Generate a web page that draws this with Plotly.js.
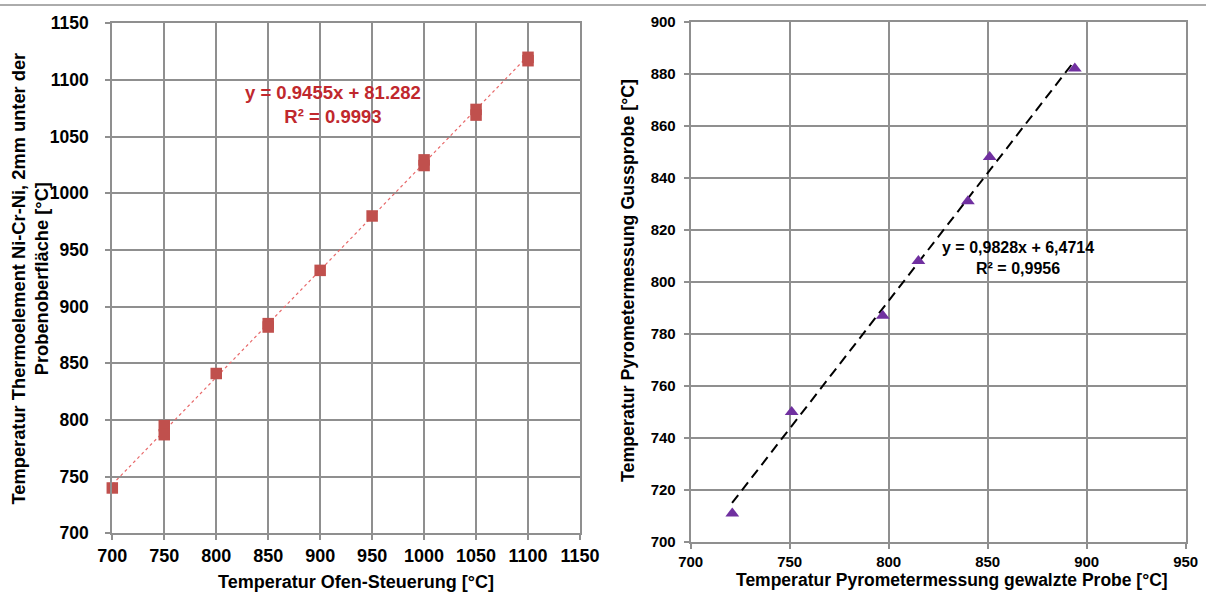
<!DOCTYPE html>
<html>
<head>
<meta charset="utf-8">
<script src="https://cdn.plot.ly/plotly-3.0.1.min.js"></script>
<style>
html,body{margin:0;padding:0;background:#fff;}
#chart{width:1206px;height:597px;}
</style>
</head>
<body>
<div id="chart"></div>
<script>
// Left chart: furnace control vs thermocouple
const leftX = [700, 750, 750, 800, 850, 850, 900, 950, 1000, 1000, 1050, 1050, 1100, 1100];
const leftY = [740, 795, 787, 841, 885, 882, 932, 980, 1029.5, 1024.5, 1074, 1069, 1120, 1117];
const leftTrendX = [700, 1100];
const leftTrendY = [743.1, 1121.3];
const leftTicks = [700, 750, 800, 850, 900, 950, 1000, 1050, 1100, 1150];

// Right chart: pyrometer rolled vs cast sample
const rightX = [721, 751, 797, 815, 840, 851, 894];
const rightY = [711, 750, 787, 808, 831, 848, 882];
const rightTrendX = [720.9, 894];
const rightTrendY = [715.0, 885.1];
const rightXTicks = [700, 750, 800, 850, 900, 950];
const rightYTicks = [700, 720, 740, 760, 780, 800, 820, 840, 860, 880, 900];

const FONT = "Liberation Sans, Arial, sans-serif";
const GRID = "#8f8f8f";
const W = 1206, H = 597;

const traces = [
  {x: leftTrendX, y: leftTrendY, xaxis: 'x', yaxis: 'y', mode: 'lines',
   line: {color: '#e8696a', width: 1.2, dash: 'dot'}, hoverinfo: 'skip', showlegend: false},
  {x: leftX, y: leftY, xaxis: 'x', yaxis: 'y', mode: 'markers', cliponaxis: false,
   marker: {symbol: 'square', size: 11.5, color: '#c0504d'}, showlegend: false},
  {x: rightTrendX, y: rightTrendY, xaxis: 'x2', yaxis: 'y2', mode: 'lines',
   line: {color: '#000000', width: 2, dash: '10px,6px'}, hoverinfo: 'skip', showlegend: false},
  {x: rightX, y: rightY, xaxis: 'x2', yaxis: 'y2', mode: 'markers', cliponaxis: false,
   marker: {symbol: 'triangle-up', size: 12, color: '#7030a0'}, showlegend: false}
];

function ax(domain, range, ticks, fontSize, anchor, standoff) {
  return {
    domain: domain, range: range, tickvals: ticks, ticktext: ticks.map(String),
    showgrid: true, gridcolor: GRID, gridwidth: 2,
    showline: true, linecolor: GRID, linewidth: 2, mirror: true,
    ticks: 'outside', ticklen: 5, tickcolor: GRID, tickwidth: 2,
    zeroline: false, anchor: anchor, fixedrange: true,
    ticklabelstandoff: standoff,
    tickfont: {family: FONT, size: fontSize, color: '#000', weight: 'bold'}
  };
}

const layout = {
  width: W, height: H,
  margin: {l: 0, r: 0, t: 0, b: 0},
  paper_bgcolor: '#fff', plot_bgcolor: '#fff',
  showlegend: false,
  xaxis: ax([112.3 / W, 580 / W], [700, 1150], leftTicks, 18, 'y', 0),
  yaxis: ax([(H - 533.3) / H, (H - 23.3) / H], [700, 1150], leftTicks, 17.5, 'x', 13),
  xaxis2: ax([690.7 / W, 1185.7 / W], [700, 950], rightXTicks, 15, 'y2', 0),
  yaxis2: ax([(H - 542) / H, (H - 21.7) / H], [700, 900], rightYTicks, 15, 'x2', 5),
  shapes: [
    {type: 'line', xref: 'paper', yref: 'paper', x0: 0, x1: 1, y0: (H - 5) / H, y1: (H - 5) / H,
     line: {color: '#595959', width: 1}}
  ],
  annotations: [
    {xref: 'paper', yref: 'paper', x: 356 / W, y: (H - 582) / H, showarrow: false,
     text: 'Temperatur Ofen-Steuerung [°C]', xanchor: 'center', yanchor: 'middle',
     font: {family: FONT, size: 18, color: '#000', weight: 'bold'}},
    {xref: 'paper', yref: 'paper', x: 29.5 / W, y: (H - 279) / H, showarrow: false, textangle: -90,
     text: 'Temperatur Thermoelement Ni-Cr-Ni, 2mm unter der<br>Probenoberfläche [°C]',
     xanchor: 'center', yanchor: 'middle',
     font: {family: FONT, size: 18.3, color: '#000', weight: 'bold'}},
    {xref: 'paper', yref: 'paper', x: 333 / W, y: (H - 104) / H, showarrow: false,
     text: 'y = 0.9455x + 81.282<br>R² = 0.9993', align: 'center', xanchor: 'center', yanchor: 'middle',
     font: {family: FONT, size: 18.5, color: '#c0282d', weight: 'bold'}},
    {xref: 'paper', yref: 'paper', x: 952 / W, y: (H - 580) / H, showarrow: false,
     text: 'Temperatur Pyrometermessung gewalzte Probe [°C]', xanchor: 'center', yanchor: 'middle',
     font: {family: FONT, size: 17.5, color: '#000', weight: 'bold'}},
    {xref: 'paper', yref: 'paper', x: 628 / W, y: (H - 281) / H, showarrow: false, textangle: -90,
     text: 'Temperatur Pyrometermessung Gussprobe [°C]', xanchor: 'center', yanchor: 'middle',
     font: {family: FONT, size: 17.8, color: '#000', weight: 'bold'}},
    {xref: 'paper', yref: 'paper', x: 1018 / W, y: (H - 257.5) / H, showarrow: false,
     text: 'y = 0,9828x + 6,4714<br>R² = 0,9956', align: 'center', xanchor: 'center', yanchor: 'middle',
     font: {family: FONT, size: 16, color: '#000', weight: 'bold'}}
  ]
};

Plotly.newPlot('chart', traces, layout, {staticPlot: true, displayModeBar: false});
</script>
</body>
</html>
